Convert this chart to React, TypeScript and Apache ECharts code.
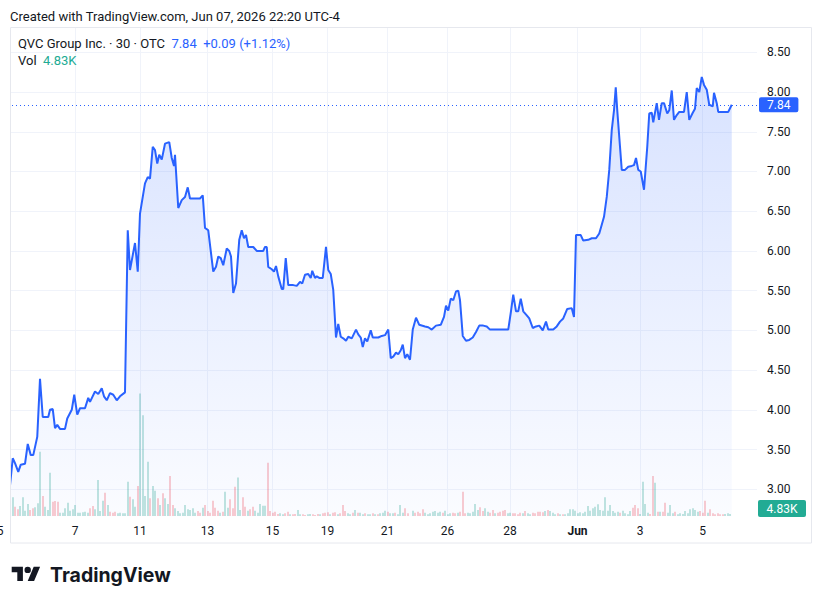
import React, { useEffect, useRef } from "react";
import * as echarts from "echarts";

// ---------- texts ----------
const createdLine = "Created with TradingView.com, Jun 07, 2026 22:20 UTC-4";
const symbolTitle = "QVC Group Inc. · 30 · OTC";
const changeText = "+0.09 (+1.12%)";
const lastVolumeK = 4.83;
const brandName = "TradingView";

// ---------- x axis (positions in 30-minute bar slots) ----------
const dayTickSlots = [-4, 26, 52, 79, 105, 127, 151, 175, 200, 227, 252, 277];
const dayTickLabels = ["5", "7", "11", "13", "15", "19", "21", "26", "28", "Jun", "3", "5"];

// ---------- price (slot, close) ----------
const pricePoints: [number, number][] = [
  [0, 3.05], [1.1, 3.39], [2, 3.33], [3.3, 3.22], [4.3, 3.31], [6, 3.32], [7.1, 3.57], [8.3, 3.43], [9.3, 3.43], [10.9, 3.66],
  [12, 4.39], [13.1, 3.91], [15.3, 3.91], [16, 4.0], [17.1, 4.01], [18, 3.77], [18.9, 3.81], [20, 3.76], [22, 3.76], [22.9, 3.89],
  [24.7, 4.0], [25.7, 4.19], [26.9, 3.94], [28, 4.02], [30, 4.02], [31.3, 4.15], [32, 4.1], [34, 4.23], [35.3, 4.2], [36.7, 4.27],
  [37.6, 4.17], [38.7, 4.12], [40, 4.21], [41.3, 4.19], [42.7, 4.12], [44, 4.17], [46, 4.22], [47.1, 6.26], [48, 5.76], [50, 6.1],
  [51.1, 5.74], [52, 6.47], [53.1, 6.68], [54, 6.85], [55.1, 6.93], [56, 6.91], [57.1, 7.31], [58, 7.27], [58.9, 7.1], [59.7, 7.21],
  [60.7, 7.15], [62, 7.35], [63.7, 7.37], [64.7, 7.17], [65.6, 7.07], [66, 7.21], [67.3, 6.54], [68.7, 6.64], [70, 6.68], [71.1, 6.8],
  [72, 6.66], [76, 6.66], [77.1, 6.7], [78, 6.29], [79.3, 6.26], [81.3, 5.74], [82.4, 5.8], [83.3, 5.93], [84.3, 5.91], [85.3, 5.82],
  [86.7, 6.03], [87.7, 6.0], [88.4, 5.93], [89.3, 5.47], [90.4, 5.59], [91.7, 6.14], [92.7, 6.26], [93.6, 6.16], [94.4, 6.2], [95.3, 6.05],
  [97.3, 6.05], [98.7, 6.0], [101.3, 6.0], [102, 6.05], [102.7, 6.05], [103.3, 5.8], [104.7, 5.77], [105.6, 5.74], [106.4, 5.81], [107.3, 5.68],
  [108.7, 5.52], [109.3, 5.52], [110.3, 5.91], [111.3, 5.57], [113.3, 5.57], [114.7, 5.56], [116, 5.61], [116.9, 5.59], [118, 5.7], [119.3, 5.71],
  [120.3, 5.66], [120.9, 5.75], [122, 5.66], [122.7, 5.68], [123.7, 5.66], [125.1, 5.66], [126.4, 6.05], [127.3, 5.76], [128.3, 5.71], [129.3, 5.51],
  [130.4, 4.91], [131.3, 5.08], [132.3, 4.92], [133.3, 4.9], [134.4, 4.87], [135.3, 4.92], [136.7, 4.9], [138.4, 5.01], [139.3, 4.95], [140.3, 4.91],
  [141.1, 4.79], [142, 4.9], [142.9, 4.86], [144.3, 5.0], [145.1, 4.91], [147.3, 4.91], [148.7, 4.93], [150, 4.94], [151.3, 5.01], [152.3, 4.65],
  [153.3, 4.67], [154.4, 4.72], [155.3, 4.7], [156.3, 4.75], [157.1, 4.82], [158, 4.65], [158.9, 4.7], [160, 4.63], [161.1, 5.01], [162.4, 5.16],
  [163.7, 5.07], [166, 5.05], [167.3, 5.04], [168.7, 5.01], [170.4, 5.06], [172.3, 5.07], [173.6, 5.17], [174.4, 5.31], [175.3, 5.25], [176.3, 5.4],
  [177.3, 5.38], [178.4, 5.49], [179.3, 5.5], [180, 5.38], [181.1, 4.93], [182.4, 4.87], [183.7, 4.88], [185.1, 4.91], [186.4, 4.98], [187.7, 5.06],
  [189.3, 5.06], [190.7, 5.05], [192, 5.01], [194, 5.01], [196, 5.01], [197.3, 5.01], [199.3, 5.01], [200.3, 5.22], [201.3, 5.45], [202.4, 5.24],
  [203.3, 5.24], [204.3, 5.4], [205.3, 5.24], [206.7, 5.19], [207.7, 5.15], [209.1, 5.03], [210.4, 5.05], [211.7, 5.06], [213.1, 5.0], [214.4, 5.11],
  [215.3, 5.01], [217.3, 5.01], [218.7, 5.05], [220, 5.11], [221.3, 5.15], [222.9, 5.27], [224.7, 5.28], [225.6, 5.17], [226.4, 6.2], [228.3, 6.2],
  [229.3, 6.13], [231.3, 6.14], [232.7, 6.16], [234.4, 6.16], [235.7, 6.22], [236.7, 6.33], [237.6, 6.43], [238.7, 6.68], [239.7, 7.02], [240.7, 7.52],
  [241.6, 7.77], [242.3, 8.06], [242.9, 7.77], [244.7, 7.02], [246, 7.02], [247.3, 7.06], [248.7, 7.07], [249.6, 7.08], [250.4, 7.17], [251.3, 7.02],
  [252.3, 7.0], [253.6, 6.77], [254.9, 7.31], [255.7, 7.73], [256.7, 7.74], [257.3, 7.62], [258.7, 7.86], [259.6, 7.65], [260.7, 7.86], [261.6, 7.86],
  [262.9, 7.73], [263.7, 7.77], [264.7, 8.02], [265.6, 7.65], [266.7, 7.71], [267.7, 7.75], [269.6, 7.75], [270.7, 8.0], [271.7, 7.65], [273.1, 7.74],
  [274, 7.79], [274.7, 8.05], [275.7, 8.0], [276.7, 8.19], [277.6, 8.09], [278.7, 8.03], [279.7, 7.84], [281.1, 7.82], [281.6, 7.99], [282.7, 7.86],
  [283.3, 7.75], [287.3, 7.75], [288.7, 7.84],
];

// ---------- volume (thousands), slot = index + 1 ----------
const volumeK = [
  44.9, 22.3, 16.1, 24, 44.9, 12.7, 28.8, 14.4, 18.5, 20.9,
  30.5, 154.3, 48, 22.3, 14.4, 103.9, 34.3, 36, 34.3, 7.9,
  7.9, 18.5, 31.9, 12.7, 16.1, 26.4, 7.9, 7.9, 8.9, 10.3,
  7.9, 18.5, 24, 16.1, 86.4, 12, 36.7, 55.9, 26.4, 10.3,
  7.9, 10.3, 6.5, 7.9, 6.5, 6.5, 82.3, 46.3, 40.1, 22.3,
  72, 294.5, 242.4, 48, 130.3, 42.5, 72, 60.7, 42.5, 26.4,
  54.5, 42.5, 28.8, 96, 26.4, 18.5, 12, 6.5, 7.9, 26.4,
  16.1, 14.4, 18.5, 7.9, 12, 7.9, 19.9, 26.4, 12, 7.9,
  36.7, 19.9, 12.7, 7.9, 10.3, 58.3, 19.9, 40.1, 18.5, 70.3,
  92.9, 14.4, 44.9, 22.3, 12.7, 16.1, 22.3, 12.7, 7.9, 28.8,
  24.7, 24.7, 127.9, 12, 7.9, 10.3, 4.8, 6.5, 4.1, 6.5,
  10.3, 4.1, 4.1, 4.8, 14.4, 4.1, 4.1, 2.4, 4.1, 4.8,
  4.1, 2.4, 4.8, 4.1, 6.5, 7.9, 8.9, 4.1, 7.9, 8.9,
  4.1, 6.5, 26.4, 12, 6.5, 4.1, 7.9, 14.4, 7.9, 7.9,
  4.1, 6.5, 4.1, 4.1, 6.5, 4.1, 4.1, 6.5, 7.9, 12.7,
  10.3, 6.5, 6.5, 7.9, 4.1, 26.4, 7.9, 18.5, 6.5, 0,
  12.7, 7.9, 10.3, 6.5, 16.1, 7.9, 4.1, 6.5, 10.3, 12,
  7.9, 10.3, 7.9, 12.7, 4.1, 6.5, 7.9, 6.5, 7.9, 10.3,
  58.3, 6.5, 7.9, 6.5, 10.3, 28.8, 14.4, 20.9, 12, 18.5,
  10.3, 7.9, 14.4, 6.5, 7.9, 10.3, 12.7, 14.4, 6.5, 7.9,
  6.5, 6.5, 4.1, 7.9, 6.5, 12, 6.5, 4.1, 7.9, 6.5,
  10.3, 10.3, 8.9, 12, 14.4, 12, 7.9, 4.1, 6.5, 4.1,
  4.1, 4.1, 6.5, 16.1, 16.1, 12.7, 6.5, 8.9, 6.5, 10.3,
  24, 12.7, 18.5, 22.3, 28, 14.4, 12.7, 44.9, 12.7, 26.4,
  12, 7.9, 10.3, 7.9, 12.7, 6.5, 4.1, 12, 19.9, 26.4,
  18.5, 4.8, 82.3, 28.8, 7.9, 4.8, 96, 80, 10.3, 10.3,
  10.3, 32, 7.9, 26.4, 6.5, 10.3, 4.1, 6.5, 4.8, 12,
  6.5, 16.1, 18.5, 14.4, 10.3, 12, 7.9, 36.7, 7.9, 16.1,
  6.5, 4.1, 6.5, 4.1, 4.1, 4.8, 6.5, 4.8,
];
// 1 = up bar (green), 0 = down bar (red)
const volumeUp = [
  1, 0, 0, 1, 1, 1, 1, 0, 0, 1,
  1, 1, 0, 1, 1, 1, 0, 0, 0, 1,
  1, 1, 1, 1, 1, 1, 1, 1, 1, 1,
  1, 0, 0, 1, 1, 1, 1, 0, 1, 0,
  0, 0, 1, 1, 1, 1, 1, 0, 1, 1,
  0, 1, 1, 1, 1, 0, 1, 1, 0, 1,
  0, 1, 1, 0, 0, 1, 1, 1, 1, 1,
  1, 1, 1, 1, 0, 0, 1, 0, 0, 0,
  0, 0, 0, 1, 0, 1, 1, 0, 0, 0,
  1, 1, 0, 0, 1, 0, 0, 1, 1, 1,
  1, 1, 0, 0, 0, 0, 0, 1, 1, 0,
  0, 1, 0, 0, 1, 1, 0, 0, 1, 1,
  0, 0, 0, 1, 0, 0, 0, 1, 0, 0,
  1, 0, 0, 0, 1, 1, 0, 1, 0, 1,
  1, 0, 1, 1, 0, 1, 0, 1, 1, 1,
  0, 1, 1, 0, 1, 1, 1, 0, 0, 1,
  1, 0, 0, 0, 0, 1, 1, 1, 1, 1,
  1, 1, 0, 1, 1, 1, 0, 0, 1, 0,
  0, 0, 1, 1, 1, 1, 1, 0, 0, 1,
  1, 0, 0, 1, 0, 0, 0, 0, 1, 1,
  0, 0, 0, 0, 1, 0, 1, 1, 0, 0,
  0, 0, 0, 1, 0, 1, 1, 1, 0, 1,
  0, 1, 1, 1, 1, 1, 1, 1, 1, 1,
  1, 1, 1, 1, 1, 1, 1, 1, 1, 1,
  1, 1, 1, 0, 1, 1, 1, 1, 0, 0,
  0, 1, 1, 1, 1, 0, 0, 1, 0, 1,
  0, 0, 1, 1, 1, 0, 1, 1, 1, 1,
  1, 1, 1, 1, 1, 0, 0, 0, 1, 0,
  0, 0, 0, 0, 0, 1, 1, 1,
];

const BLUE = "#2962ff";
const TEAL = "#22ab94";
const TEXT = "#131722";
const GRID = "#f0f3fa";
const FONT = "Roboto, 'Noto Sans', sans-serif";
const UP_VOL = "rgba(8,153,129,0.5)";
const DOWN_VOL = "rgba(242,54,69,0.5)";

echarts.graphic.registerShape(
  "tvLogo",
  echarts.graphic.extendPath(
    "M14 22H7V11H0V4h14v18zM28 22h-8l7.5-18h8L28 22zM24 8a4 4 0 1 1-8 0a4 4 0 1 1 8 0z",
    {}
  ) as any
);

export default function App() {
  const ref = useRef<HTMLDivElement>(null);

  useEffect(() => {
    if (!ref.current) return;
    const chart = echarts.init(ref.current, undefined, { renderer: "svg" });
    const lastPrice = pricePoints[pricePoints.length - 1][1];
    const lastPriceStr = lastPrice.toFixed(2);
    const lastVolStr = `${lastVolumeK.toFixed(2)}K`;

    const option: any = {
      animation: false,
      backgroundColor: "#ffffff",
      textStyle: { fontFamily: FONT },
      grid: [
        { left: 0, right: 65, top: 12.6, bottom: 75, containLabel: false, outerBoundsMode: "none" },
        { left: 0, right: 65, top: 28, bottom: 88, containLabel: false, outerBoundsMode: "none" },
      ],
      xAxis: [
        { type: "value", gridIndex: 0, min: -4, max: 298.8, show: false },
        {
          type: "value",
          gridIndex: 1,
          min: -4,
          max: 298.8,
          axisLine: { show: false },
          axisTick: { show: false, customValues: dayTickSlots },
          axisLabel: {
            customValues: dayTickSlots,
            color: TEXT,
            fontSize: 12,
            fontFamily: FONT,
            margin: 9,
            formatter: (v: number) => {
              const i = dayTickSlots.indexOf(v);
              if (i < 0) return "";
              const s = dayTickLabels[i];
              return isNaN(Number(s)) ? `{b|${s}}` : s;
            },
            rich: { b: { fontWeight: "bold", fontSize: 12, color: TEXT, fontFamily: FONT } },
          },
          splitLine: { show: true, lineStyle: { color: GRID, width: 1 } },
        },
      ],
      yAxis: [
        {
          type: "value",
          gridIndex: 0,
          position: "right",
          min: 2.5,
          max: 9,
          interval: 0.5,
          axisLine: { show: false },
          axisTick: { show: false },
          axisLabel: {
            showMinLabel: false,
            showMaxLabel: false,
            color: TEXT,
            fontSize: 12,
            fontFamily: FONT,
            margin: 10,
            formatter: (v: number) => v.toFixed(2),
          },
          splitLine: {
            show: true,
            showMinLine: false,
            showMaxLine: false,
            lineStyle: { color: GRID, width: 1 },
          },
        },
        { type: "value", gridIndex: 1, min: 0, max: 1174, show: false },
      ],
      series: [
        {
          type: "custom",
          xAxisIndex: 1,
          yAxisIndex: 1,
          silent: true,
          clip: true,
          encode: { x: 0, y: 1 },
          data: volumeK.map((v, i) => [i + 1, v, volumeUp[i]]),
          renderItem: (_params: any, api: any) => {
            const x = api.value(0);
            const v = api.value(1);
            const top = api.coord([x, v]);
            const base = api.coord([x, 0]);
            return {
              type: "rect",
              shape: { x: Math.round(top[0]) - 0.5, y: top[1], width: 1, height: base[1] - top[1] },
              style: { fill: api.value(2) ? UP_VOL : DOWN_VOL },
            };
          },
        },
        {
          type: "line",
          xAxisIndex: 0,
          yAxisIndex: 0,
          data: pricePoints,
          symbol: "none",
          showSymbol: false,
          silent: true,
          z: 3,
          lineStyle: { color: BLUE, width: 2 },
          itemStyle: { color: BLUE },
          areaStyle: {
            origin: 2.66,
            color: new echarts.graphic.LinearGradient(0, 0, 0, 1, [
              { offset: 0, color: "rgba(41,98,255,0.26)" },
              { offset: 1, color: "rgba(41,98,255,0.03)" },
            ]),
          },
          markLine: {
            silent: true,
            symbol: ["none", "none"],
            lineStyle: { color: BLUE, type: [1, 3], width: 1 },
            label: {
              position: "end",
              distance: 2,
              formatter: () => lastPriceStr,
              backgroundColor: BLUE,
              color: "#ffffff",
              fontSize: 12,
              fontFamily: FONT,
              padding: [2, 8, 1, 8],
              borderRadius: 2,
            },
            data: [{ yAxis: lastPrice }],
          },
        },
      ],
      graphic: {
        elements: [
          { type: "rect", z: 100, silent: true, shape: { x: 0, y: 26, width: 10, height: 492 }, style: { fill: "#ffffff" } },
          {
            type: "rect",
            z: 101,
            silent: true,
            shape: { x: 10.5, y: 27.5, width: 801, height: 515.5 },
            style: { fill: "none", stroke: "#e6e8ee", lineWidth: 1 },
          },
          {
            type: "text",
            z: 101,
            x: 10,
            y: 16,
            style: { text: createdLine, fill: TEXT, fontSize: 13, fontFamily: FONT, verticalAlign: "middle", align: "left" },
          },
          {
            type: "text",
            z: 101,
            x: 18,
            y: 43,
            style: {
              text: `${symbolTitle}  {p|${lastPriceStr}}  {p|${changeText}}`,
              fill: TEXT,
              fontSize: 13,
              fontFamily: FONT,
              verticalAlign: "middle",
              align: "left",
              rich: { p: { fill: BLUE, fontSize: 13, fontFamily: FONT } },
            },
          },
          {
            type: "text",
            z: 101,
            x: 18,
            y: 60,
            style: {
              text: `Vol  {v|${lastVolStr}}`,
              fill: TEXT,
              fontSize: 13,
              fontFamily: FONT,
              verticalAlign: "middle",
              align: "left",
              rich: { v: { fill: TEAL, fontSize: 13, fontFamily: FONT } },
            },
          },
          {
            type: "group",
            z: 101,
            x: 758,
            y: 500,
            children: [
              { type: "rect", shape: { x: 0, y: 0, width: 48, height: 17, r: 2 }, style: { fill: TEAL } },
              {
                type: "text",
                x: 24,
                y: 8.5,
                style: { text: lastVolStr, fill: "#ffffff", fontSize: 12, fontFamily: FONT, align: "center", verticalAlign: "middle" },
              },
            ],
          },
          { type: "tvLogo", z: 101, x: 11.7, y: 563.5, scaleX: 0.8, scaleY: 0.8, style: { fill: TEXT } },
          {
            type: "text",
            z: 101,
            x: 50,
            y: 575,
            style: { text: brandName, fill: TEXT, fontSize: 19.5, fontWeight: "bold", fontFamily: "Inter, Roboto, sans-serif", verticalAlign: "middle", align: "left" },
          },
        ],
      },
    };

    chart.setOption(option);
    return () => chart.dispose();
  }, []);

  return (
    <div
      ref={ref}
      style={{ position: "absolute", left: 0, top: 0, width: 822, height: 604, background: "#ffffff" }}
    />
  );
}
